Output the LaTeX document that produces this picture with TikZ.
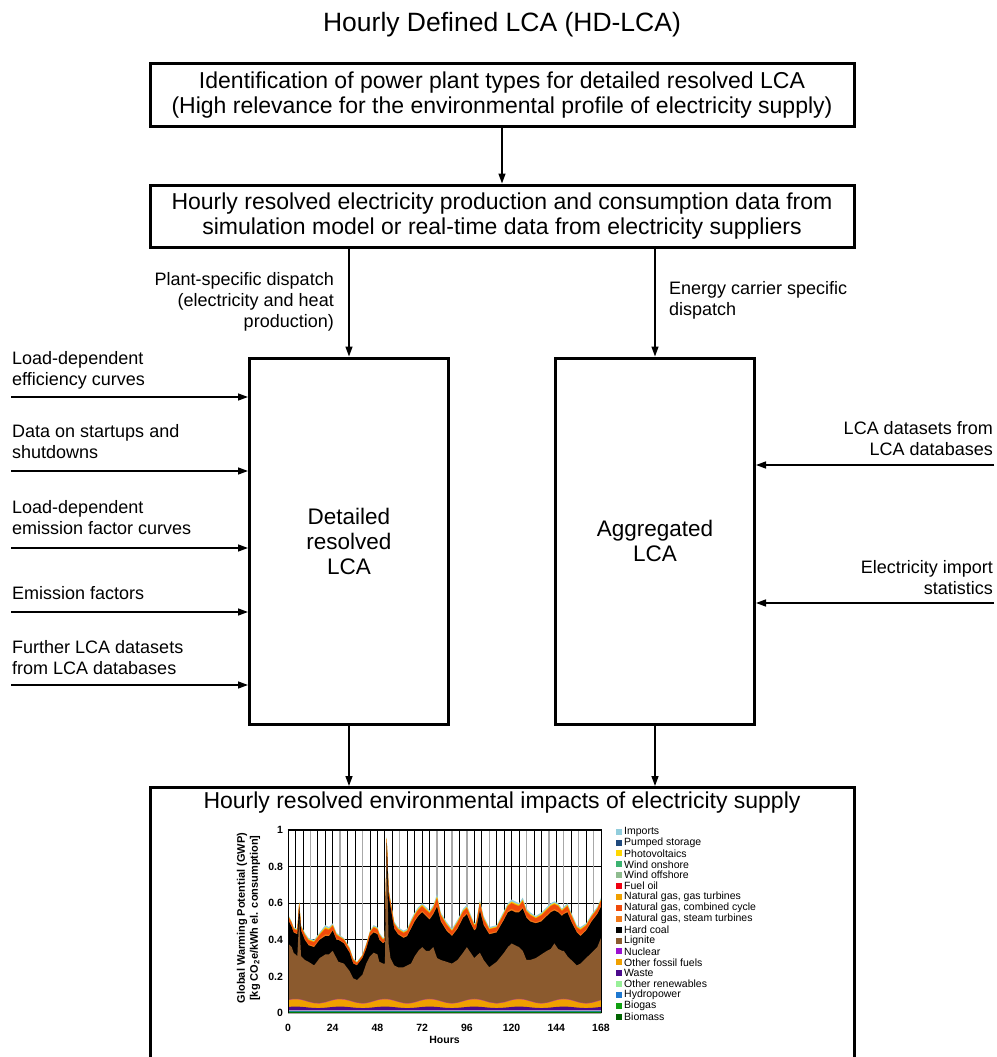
\documentclass[tikz,border=0pt]{standalone}
\usepackage{fontspec}
\setmainfont{Liberation Sans}
\usepackage{pgfplots}
\usepackage{pgfplotstable}
\pgfplotsset{compat=1.18}
\usetikzlibrary{arrows.meta}
\definecolor{cImp}{HTML}{92CDDC}
\definecolor{cPS}{HTML}{1F497D}
\definecolor{cPV}{HTML}{FFD700}
\definecolor{cWon}{HTML}{3CB371}
\definecolor{cWoff}{HTML}{8FBC8F}
\definecolor{cFO}{HTML}{F00010}
\definecolor{cNGgt}{HTML}{F0A000}
\definecolor{cNGcc}{HTML}{F04A0A}
\definecolor{cNGst}{HTML}{F07818}
\definecolor{cHC}{HTML}{000000}
\definecolor{cLig}{HTML}{8B5A2E}
\definecolor{cNuc}{HTML}{9B10D0}
\definecolor{cOF}{HTML}{F0A000}
\definecolor{cWaste}{HTML}{4B0A8C}
\definecolor{cORen}{HTML}{98F098}
\definecolor{cHydro}{HTML}{1E78D0}
\definecolor{cBiogas}{HTML}{10A010}
\definecolor{cBiomass}{HTML}{006400}
\definecolor{cGrid}{HTML}{A8A8A8}
\pgfplotstableread{
h T H L
0 .54 .51 .38
2 .50 .47 .36
3 .47 .44 .33
5 .46 .43 .31
6 .61 .58 .52
7 .48 .45 .31
9 .44 .40 .29
11 .41 .37 .28
14 .40 .36 .26
17 .44 .40 .30
20 .48 .42 .32
22 .47 .42 .32
24 .49 .45 .34
26 .44 .40 .30
27 .43 .40 .28
30 .41 .38 .27
33 .36 .33 .23
35 .30 .27 .19
37 .28 .26 .18
40 .32 .30 .21
42 .38 .35 .27
44 .45 .42 .31
46 .48 .44 .33
48 .47 .43 .32
49 .44 .40 .28
51 .41 .38 .27
52 .42 .39 .27
53 .96 .93 .90
54 .68 .64 .38
55 .62 .58 .30
57 .50 .46 .26
59 .47 .43 .25
62 .45 .41 .25
64 .46 .42 .26
66 .51 .46 .27
68 .55 .50 .31
70 .58 .53 .34
72 .60 .55 .36
74 .58 .53 .34
76 .56 .51 .34
78 .59 .54 .36
80 .65 .58 .30
82 .55 .50 .29
85 .50 .45 .28
88 .46 .42 .27
91 .51 .46 .29
94 .57 .52 .33
96 .59 .54 .36
98 .54 .49 .33
100 .49 .45 .30
101 .50 .46 .31
103 .62 .56 .33
105 .53 .48 .29
108 .47 .43 .25
112 .48 .44 .28
116 .56 .51 .33
118 .60 .55 .36
120 .62 .56 .38
122 .61 .55 .37
124 .60 .55 .36
126 .63 .57 .34
128 .57 .52 .29
130 .55 .50 .29
133 .53 .49 .30
136 .55 .50 .32
139 .58 .53 .34
141 .60 .55 .35
143 .61 .56 .38
145 .60 .55 .35
147 .57 .53 .34
148 .58 .54 .34
150 .60 .55 .31
152 .55 .50 .29
155 .48 .44 .26
157 .47 .42 .27
160 .49 .45 .30
163 .54 .50 .33
166 .58 .54 .36
168 .63 .58 .41
}\gwpdata
\tikzset{
  box/.style={draw, line width=3pt, inner sep=0pt, align=center, font=\fontsize{23}{25}\selectfont},
  arr/.style={line width=1.4pt, -{Triangle[length=10pt,width=7pt]}},
  lbl/.style={inner sep=0pt, font=\fontsize{18}{21}\selectfont},
  tick/.style={inner sep=0pt, font=\fontsize{10.5}{12}\selectfont\bfseries},
  leg/.style={inner sep=0pt, anchor=west, font=\fontsize{10.5}{12}\selectfont},
  area/.style={fill=#1, draw=none},
}
\begin{document}
\begin{tikzpicture}
\begin{scope}[x=1pt,y=-1pt]
\useasboundingbox (0,0) rectangle (996,1057);
% title
\node[font=\fontsize{26.5}{30}\selectfont, inner sep=0pt] (title) at (502,25) {Hourly Defined LCA (HD-LCA)};
% boxes
\node[box, minimum width=704pt, minimum height=62pt] (id) at (502,95)
  {Identification of power plant types for detailed resolved LCA\\(High relevance for the environmental profile of electricity supply)};
\node[box, minimum width=704pt, minimum height=62pt] (hr) at (502,216)
  {Hourly resolved electricity production and consumption data from\\simulation model or real-time data from electricity suppliers};
\node[box, minimum width=199pt, minimum height=366pt, font=\fontsize{22.5}{25}\selectfont] (det) at (349,541) {Detailed\\resolved\\LCA};
\node[box, minimum width=199pt, minimum height=366pt, font=\fontsize{22.5}{25}\selectfont] (agg) at (655,541) {Aggregated\\LCA};
\node[draw, line width=3pt, inner sep=0pt, minimum width=704pt, minimum height=290pt, anchor=north] (out) at (502,786) {};
\node[inner sep=0pt, font=\fontsize{23}{25}\selectfont] (outt) at (502,803) {Hourly resolved environmental impacts of electricity supply};
% vertical connectors
\draw[arr] (id.south) -- (hr.north);
\draw[arr] (det.north |- hr.south) -- (det.north);
\draw[arr] (agg.north |- hr.south) -- (agg.north);
\draw[arr] (det.south) -- (det.south |- out.north);
\draw[arr] (agg.south) -- (agg.south |- out.north);
% dispatch labels
\node[lbl, anchor=east, align=right] (pl) at (334,302) {Plant-specific dispatch\\(electricity and heat\\production)};
\node[lbl, anchor=west, align=left] (ec) at (669,300.5) {Energy carrier specific\\dispatch};
% left inputs
\foreach \y [count=\i] in {397,471,548,612,685} {
  \coordinate (L\i) at (11,\y);
  \draw[arr] (L\i) -- (L\i -| det.west);
}
\node[lbl, anchor=west, align=left] (t1) at (12,370.5) {Load-dependent\\efficiency curves};
\node[lbl, anchor=west, align=left] (t2) at (12,442) {Data on startups and\\shutdowns};
\node[lbl, anchor=west, align=left] (t3) at (12,517.5) {Load-dependent\\emission factor curves};
\node[lbl, anchor=west, align=left] (t4) at (12,593) {Emission factors};
\node[lbl, anchor=west, align=left] (t5) at (12,658) {Further LCA datasets\\from LCA databases};
% right inputs
\coordinate (R1) at (994,465);
\coordinate (R2) at (994,603);
\draw[arr] (R1) -- (R1 -| agg.east);
\draw[arr] (R2) -- (R2 -| agg.east);
\node[lbl, anchor=east, align=right] (r1) at (993,439) {LCA datasets from\\LCA databases};
\node[lbl, anchor=east, align=right] (r2) at (993,577.5) {Electricity import\\statistics};
% legend
\foreach \n/\c [count=\i from 0] in {Imports/cImp, Pumped storage/cPS, Photovoltaics/cPV, Wind onshore/cWon, Wind offshore/cWoff, Fuel oil/cFO, {Natural gas, gas turbines}/cNGgt, {Natural gas, combined cycle}/cNGcc, {Natural gas, steam turbines}/cNGst, Hard coal/cHC, Lignite/cLig, Nuclear/cNuc, Other fossil fuels/cOF, Waste/cWaste, Other renewables/cORen, Hydropower/cHydro, Biogas/cBiogas, Biomass/cBiomass} {
  \pgfmathsetmacro{\yy}{831.7+10.88*\i}
  \fill[\c] (616,\yy-3) rectangle (622,\yy+3);
  \node[leg] at (624,\yy) {\n};
}
% chart frame coordinates
\begin{scope}[shift={(288,1013)}, x=1.8631pt, y=183pt]
  \coordinate (co) at (0,0);
  \foreach \v in {0.2,0.4,0.6,0.8} \draw[line width=0.9pt] (0,\v) -- (168,\v);
  \foreach \h in {4,8,16,20,24,32,36,44,48,52,56,64,68,72,76,84,92,100,104,112,116,120,124,132,136,144,152,160}
    \draw[line width=0.8pt] (\h,0) -- (\h,1);
  \foreach \h in {12,28,40,60,80,88,96,108,128,140,148,156,164}
    \draw[cGrid, line width=1.4pt] (\h,0) -- (\h,1);
  \foreach \v/\t in {0/0,0.2/0.2,0.4/0.4,0.6/0.6,0.8/0.8,1/1}
    \node[tick, anchor=east] at (-2.6,\v) {\t};
  \foreach \h in {0,24,48,72,96,120,144,168}
    \node[tick] at (\h,-0.082) {\h};
  \node[tick, font=\fontsize{10.5}{12}\selectfont\bfseries] (hours) at (84,-0.148) {Hours};
  \node[tick, font=\fontsize{11}{13}\selectfont\bfseries, rotate=90, align=center] (ytitle) at (-21.2,0.519)
    {Global Warming Potential (GWP)\\{[}kg CO\textsubscript{2}e/kWh el. consumption{]}};
\end{scope}
\end{scope}
% stacked areas
\begin{axis}[hide axis, at={(co)}, anchor=south west, width=313pt, height=183pt, scale only axis,
  xmin=0, xmax=168, ymin=0, ymax=1]
  \addplot[area=cImp] table[x=h, y=T] {\gwpdata} \closedcycle;
  \addplot[area=cPV] table[x=h, y expr={\thisrow{H}+0.82*(\thisrow{T}-\thisrow{H})}] {\gwpdata} \closedcycle;
  \addplot[area=cNGgt] table[x=h, y expr={\thisrow{H}+0.75*(\thisrow{T}-\thisrow{H})}] {\gwpdata} \closedcycle;
  \addplot[area=cNGcc] table[x=h, y expr={\thisrow{H}+0.67*(\thisrow{T}-\thisrow{H})}] {\gwpdata} \closedcycle;
  \addplot[area=cNGst] table[x=h, y expr={\thisrow{H}+0.16*(\thisrow{T}-\thisrow{H})}] {\gwpdata} \closedcycle;
  \addplot[area=cHC] table[x=h, y=H] {\gwpdata} \closedcycle;
  \addplot[area=cLig] table[x=h, y=L] {\gwpdata} \closedcycle;
  \addplot[area=cNuc!60!cOF] table[x=h, y expr={0.066+0.012*cos(15*(\thisrow{h}-4))}] {\gwpdata} \closedcycle;
  \addplot[area=cOF] table[x=h, y expr={0.063+0.012*cos(15*(\thisrow{h}-4))}] {\gwpdata} \closedcycle;
  \addplot[area=cWaste] table[x=h, y expr={0.031+0.004*cos(15*(\thisrow{h}-4))}] {\gwpdata} \closedcycle;
  \addplot[area=cORen!50!cNuc!30!white] table[x=h, y expr={0.015}] {\gwpdata} \closedcycle;
  \addplot[area=cHydro] table[x=h, y expr={0.010}] {\gwpdata} \closedcycle;
  \addplot[area=cBiogas] table[x=h, y expr={0.008}] {\gwpdata} \closedcycle;
  \addplot[area=cBiomass] table[x=h, y expr={0.003}] {\gwpdata} \closedcycle;
\end{axis}
% chart border on top
\begin{scope}[x=1pt,y=-1pt]
  \draw[cGrid, line width=1pt] (288,1013) -- (601,1013);
  \draw[line width=1pt] (288,1013) -- (288,830);
  \draw[line width=1pt] (601,1013) -- (601,830);
  \draw[line width=2pt] (287.5,830) -- (601.5,830);
\end{scope}
\end{tikzpicture}
\end{document}
